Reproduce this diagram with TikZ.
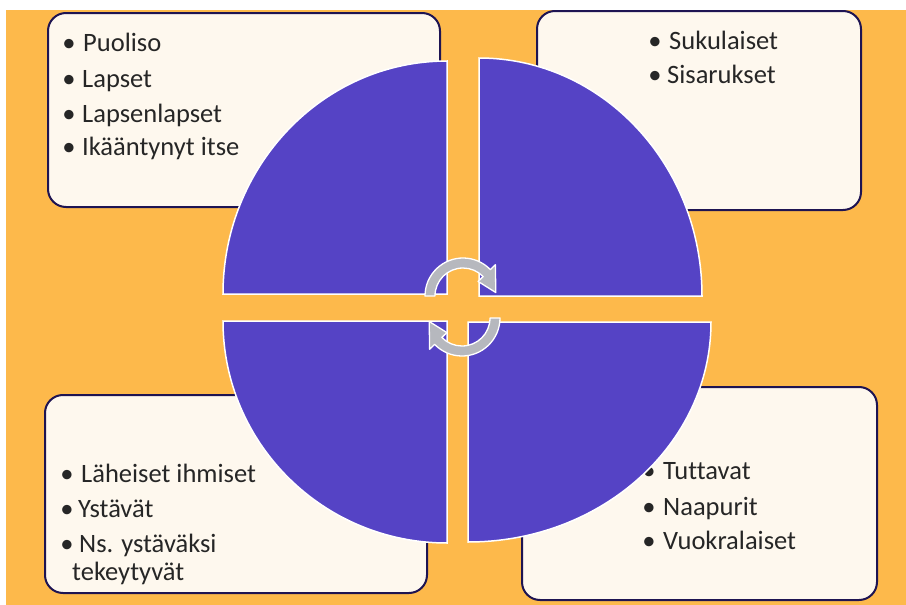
\documentclass[tikz,border=0pt]{standalone}
\usepackage{fontspec}
\setmainfont{Carlito}[Ligatures=NoCommon]
\usetikzlibrary{calc}
\definecolor{bgorange}{HTML}{FDB94B}
\definecolor{boxfill}{HTML}{FEF8EE}
\definecolor{boxline}{HTML}{1E1452}
\definecolor{piece}{HTML}{5543C5}
\definecolor{txtcol}{HTML}{262626}
\definecolor{arrfill}{HTML}{B6B8BE}
\begin{document}
\begin{tikzpicture}[x=1pt,y=-1pt,
  infobox/.style={fill=boxfill,draw=boxline,line width=2pt,rounded corners=18pt},
  quarter/.style={fill=piece,draw=white,line width=1.5pt},
  cyc/.style={fill=arrfill,draw=white,line width=1.3pt,line join=round},
  txt/.style={text=txtcol,font=\fontsize{26.5}{30}\selectfont,inner sep=0pt,anchor=base west},
  bul/.style={text=txtcol,font=\fontsize{26.5}{30}\selectfont,inner sep=0pt,anchor=base}]
\useasboundingbox (0,0) rectangle (906,605);
\fill[white] (0,0) rectangle (906,605);
\fill[bgorange] (6,10) rectangle (906,605);
% boxes
\draw[infobox] (48,13) rectangle (440,207);
\draw[infobox] (537,11) rectangle (861,210);
\draw[infobox] (45,395) rectangle (427,593);
\draw[infobox] (522,387) rectangle (877,600);
% text top-left
\node[bul] (tlb1) at (69,52) {•};
\node[txt] (tl1) at (83,52) {Puoliso};
\node[bul] (tlb2) at (69,87) {•};
\node[txt] (tl2) at (82,87) {Lapset};
\node[bul] (tlb3) at (69,122) {•};
\node[txt] (tl3) at (82,122) {Lapsenlapset};
\node[bul] (tlb4) at (69,155) {•};
\node[txt] (tl4) at (82,155) {Ikääntynyt itse};
% text top-right
\node[bul] (trb1) at (655,49) {•};
\node[txt] (tr1) at (669,49) {Sukulaiset};
\node[bul] (trb2) at (655,83) {•};
\node[txt] (tr2) at (667,83) {Sisarukset};
% text bottom-left
\node[bul] (blb1) at (67,482) {•};
\node[txt] (bl1) at (81,482) {Läheiset ihmiset};
\node[bul] (blb2) at (67,517) {•};
\node[txt] (bl2) at (78,517) {Ystävät};
\node[bul] (blb3) at (67,552) {•};
\node[txt] (bl3) at (79,552) {Ns. ystäväksi};
\node[txt] (bl4) at (72,580) {tekeytyvät};
% text bottom-right
\node[bul] (brb1) at (649,479) {•};
\node[txt] (br1) at (663,479) {Tuttavat};
\node[bul] (brb2) at (649,515) {•};
\node[txt] (br2) at (663,515) {Naapurit};
\node[bul] (brb3) at (649,549) {•};
\node[txt] (br3) at (663,549) {Vuokralaiset};
% quarter pieces
\draw[quarter] (447,294) -- (223,294) arc[start angle=180,end angle=270,x radius=224,y radius=233] -- cycle;
\draw[quarter] (479,296) -- (479,58) arc[start angle=270,end angle=360,x radius=223,y radius=238] -- cycle;
\draw[quarter] (447,321) -- (223,321) arc[start angle=180,end angle=90,x radius=224,y radius=222] -- cycle;
\draw[quarter] (468,322) -- (711,322) arc[start angle=0,end angle=90,x radius=243,y radius=220] -- cycle;
% circular arrows
\coordinate (ca) at (463,296);
\coordinate (cb) at (462,318);
\draw[cyc] ($(ca)+(180:28)$) arc[start angle=180,end angle=316,radius=28]
  -- ($(ca)+(316:21)$) -- ($(ca)+(354:33)$) -- ($(ca)+(316:45)$) -- ($(ca)+(316:38)$)
  arc[start angle=316,end angle=180,radius=38] -- cycle;
\draw[cyc] ($(cb)+(0:28)$) arc[start angle=0,end angle=136,radius=28]
  -- ($(cb)+(136:21)$) -- ($(cb)+(174:33)$) -- ($(cb)+(136:45)$) -- ($(cb)+(136:38)$)
  arc[start angle=136,end angle=0,radius=38] -- cycle;
\end{tikzpicture}
\end{document}
